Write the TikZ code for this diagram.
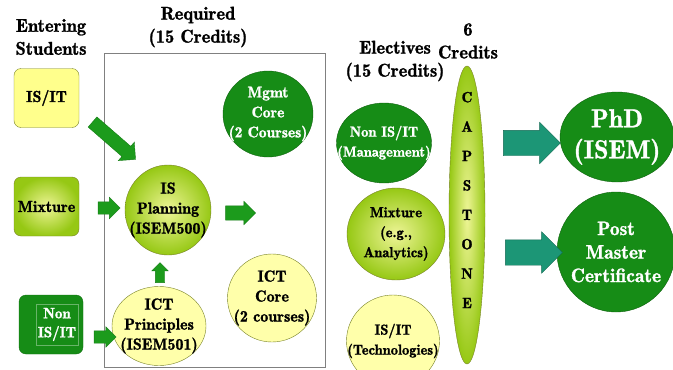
\documentclass[tikz,border=0pt]{standalone}
\usepackage{fontspec}
\setmainfont{lmroman10-regular.otf}[BoldFont=lmromandemi10-regular.otf, BoldFeatures={FakeBold=1.3}]
\usepackage{xcolor}
\usetikzlibrary{shapes.geometric,shapes.arrows}
\tikzset{>=latex}
\definecolor{nodegreen}{RGB}{22,140,22}
\definecolor{arrowgreen}{RGB}{28,155,28}
\definecolor{tealarrow}{RGB}{28,150,118}
\definecolor{paleyellow}{RGB}{255,255,170}
\definecolor{boxyellow}{RGB}{255,255,140}
\definecolor{limein}{RGB}{238,245,150}
\definecolor{limeout}{RGB}{150,200,20}
\definecolor{edgeolive}{RGB}{120,130,40}

\begin{document}
\begin{tikzpicture}[
    x=1pt, y=-1pt,
    every node/.style={align=center, font=\bfseries},
    hdr/.style={font=\fontsize{18.5}{23}\selectfont\bfseries},
    entrybox/.style={rectangle, rounded corners=7pt, draw=edgeolive, minimum width=65, minimum height=59},
    lime/.style={shading=radial, inner color=limein, outer color=limeout},
    oval/.style={ellipse, draw=edgeolive, inner sep=-25pt},
    darkoval/.style={oval, fill=nodegreen, draw=nodegreen!70!black, text=white},
    paleoval/.style={oval, fill=paleyellow},
    limeoval/.style={oval, lime},
    txt/.style={font=\fontsize{16}{20}\selectfont\bfseries},
    blockarrow/.style={single arrow, fill=arrowgreen, draw=arrowgreen!80!black, inner xsep=0pt},
    tealblock/.style={single arrow, fill=tealarrow, draw=tealarrow!70!black, inner xsep=0pt,
        inner ysep=12.5pt, single arrow head extend=8pt, minimum height=57}
]
    \useasboundingbox (0,0) rectangle (673,370);

    % Headings
    \node[hdr] (entering) at (51,37) {Entering\\Students};
    \node[hdr] (required) at (198,27) {Required\\(15 Credits)};
    \node[hdr] (electives) at (395,61) {Electives\\(15 Credits)};
    \node[hdr] (capcredits) at (468,41) {6\\Credits};

    % Required frame
    \node[draw=gray, thick, minimum width=221, minimum height=314] (reqbox) at (214.5,210) {};

    % Entering students
    \node[entrybox, fill=boxyellow, txt] (isit) at (46.5,98) {IS/IT};
    \node[entrybox, lime, txt] (mixture) at (46.5,206.5) {Mixture};
    \node[entrybox, fill=nodegreen, draw=nodegreen!80!black, minimum width=64] (nonisit) at (51,324.5) {};
    \node[draw=nodegreen!65!white, thin, text=white, inner sep=2pt,
        font=\fontsize{15}{19}\selectfont\bfseries, minimum width=30, minimum height=41] (nontxt) at (57,324.5) {Non\\IS/IT};

    % Required courses
    \node[limeoval, minimum width=86, minimum height=90, txt] (planning) at (168,210) {IS\\Planning\\(ISEM500)};
    \node[paleoval, minimum width=94, minimum height=79, txt] (principles) at (159,326) {ICT\\Principles\\(ISEM501)};
    \node[paleoval, minimum width=89, minimum height=88, txt] (ictcore) at (272,298) {ICT\\Core\\(2 courses)};
    \node[darkoval, minimum width=90, minimum height=86, font=\fontsize{15.5}{20}\selectfont\bfseries] (mgmtcore) at (268,114) {Mgmt\\Core\\(2 Courses)};

    % Electives
    \node[darkoval, minimum width=95, minimum height=80, font=\fontsize{14.5}{20}\selectfont\bfseries] (nonmgmt) at (384,143) {Non IS/IT\\(Management)};
    \node[limeoval, minimum width=98, minimum height=92, font=\fontsize{14.5}{20}\selectfont\bfseries] (analytics) at (396,234) {Mixture\\(e.g.,\\Analytics)};
    \node[paleoval, minimum width=93, minimum height=92, font=\fontsize{14.5}{20}\selectfont\bfseries] (technologies) at (393,341) {IS/IT\\(Technologies)};

    % Capstone
    \node[limeoval, minimum width=36, minimum height=298] (capstone) at (467,215) {};
    \node[font=\fontsize{15}{29.4}\selectfont\bfseries] (capletters) at (467,200) {C\\A\\P\\S\\T\\O\\N\\E};

    % Outcomes
    \node[darkoval, minimum width=114, minimum height=90, font=\fontsize{26}{31}\selectfont\bfseries] (phd) at (617,137) {PhD\\ (ISEM)};
    \node[darkoval, minimum width=118, minimum height=120, font=\fontsize{19.5}{23.5}\selectfont\bfseries] (postmaster) at (616,252) {Post\\Master\\Certificate};

    % Arrows
    \node[blockarrow, rotate=-41, inner ysep=6.5pt, single arrow head extend=5.5pt, minimum height=57] (arrisit) at (111.5,138.5) {};
    \node[blockarrow, inner ysep=6pt, single arrow head extend=4.5pt, minimum height=22] (arrmix) at (106,208) {};
    \node[blockarrow, inner ysep=6pt, single arrow head extend=4pt, minimum height=22] (arrnon) at (102,337) {};
    \node[blockarrow, inner ysep=7pt, single arrow head extend=4.5pt, minimum height=30] (arrplan) at (237,213) {};
    \node[blockarrow, rotate=90, inner ysep=4.5pt, single arrow head extend=3.5pt, minimum height=20] (arrup) at (160,275) {};
    \node[tealblock] (arrphd) at (525.5,143) {};
    \node[tealblock] (arrpost) at (527.5,252.5) {};
\end{tikzpicture}
\end{document}
